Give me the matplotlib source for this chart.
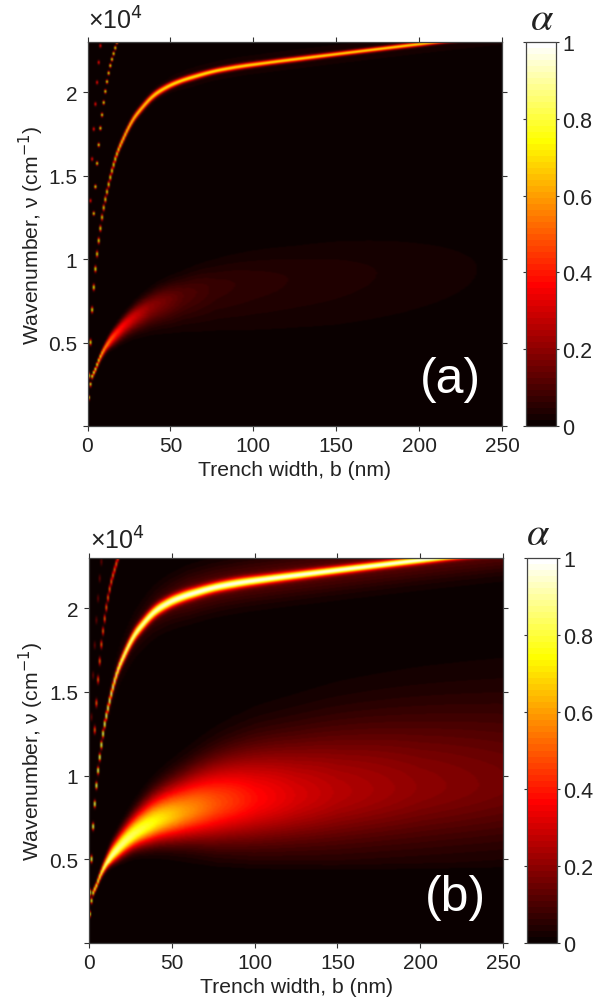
import numpy as np
from matplotlib import pyplot as plt
plt.rc('font', **{'family': 'Liberation Sans', 'size': 13})

main_b = [0, 1, 2, 3, 4, 5, 6, 8, 11.6, 16, 21.7, 27, 32, 38, 47.8, 56, 64, 75, 88, 108, 128, 150, 175, 200, 215, 250]
main_nu = [0.3, 0.5, 0.695, 0.83, 0.94, 1.03, 1.11, 1.25, 1.43, 1.60, 1.74, 1.84, 1.905, 1.97, 2.035, 2.07, 2.095, 2.125, 2.15, 2.178, 2.203, 2.23, 2.26, 2.29, 2.307, 2.345]
main_amp_a = [0.75, 0.75, 0.75, 0.75, 0.75, 0.72, 0.72, 0.7, 0.72, 0.72, 0.72, 0.7, 0.68, 0.68, 0.68, 0.68, 0.68, 0.68, 0.66, 0.66, 0.66, 0.66, 0.66, 0.66, 0.6, 0.5]
main_wid_a = [.012, .012, .012, .012, .012, .012, .012, .012, .012, .013, .014, .014, .014, .014, .013, .012, .012, .011, .011, .010, .010, .009, .009, .009, .008, .008]
main_amp_b = [0.85] * 26
main_wid_b = [.014, .014, .014, .014, .014, .015, .015, .016, .018, .02, .023, .024, .024, .024, .023, .022, .021, .02, .02, .018, .017, .016, .015, .015, .014, .014]

sec_b = [3, 4, 5, 6, 7, 8, 10, 12, 16, 20]
sec_nu = [1.273, 1.434, 1.574, 1.685, 1.785, 1.865, 2.006, 2.116, 2.267, 2.4]
thi_b = [1, 2, 3, 4, 5, 6, 7, 8]
thi_nu = [1.35, 1.6, 1.78, 1.93, 2.06, 2.18, 2.28, 2.4]

low_b = [0, 1, 4, 7, 10, 13, 17, 22, 27, 37, 57, 77, 100, 125, 150, 200, 250]
low_nu = [0.17, 0.25, 0.34, 0.415, 0.47, 0.515, 0.56, 0.61, 0.65, 0.71, 0.78, 0.83, 0.86, 0.88, 0.90, 0.93, 0.95]
low_amp_a = [0.8, 0.8, 0.8, 0.72, 0.6, 0.5, 0.42, 0.35, 0.3, 0.2, 0.11, 0.07, 0.055, 0.045, 0.038, 0.024, 0.012]
low_amp_b = [0.8, 0.8, 0.8, 0.85, 0.9, 0.9, 0.88, 0.85, 0.82, 0.76, 0.6, 0.48, 0.38, 0.31, 0.26, 0.2, 0.16]
low_under = [.012, .012, .014, .018, .024, .03, .038, .047, .055, .075, .11, .15, .18, .2, .22, .24, .25]
low_over = [.012, .012, .014, .02, .03, .04, .05, .062, .075, .1, .14, .18, .22, .25, .28, .32, .35]

x_ticks = [0, 50, 100, 150, 200, 250]
y_ticks = [5000, 10000, 15000, 20000]
y_labels = ['0.5', '1', '1.5', '2']
cb_ticks = [0, 0.2, 0.4, 0.6, 0.8, 1]
cb_labels = ['0', '0.2', '0.4', '0.6', '0.8', '1']

W, H = 603.0, 1003.0
cols = np.arange(0, 251)
rows = np.arange(0, 2.3025, 0.005)
hot = plt.get_cmap('hot', 64)


def through(x, xp, yp):
    # cubic hermite through the table, nan outside of it
    xp = np.array(xp, dtype=float)
    yp = np.array(yp, dtype=float)
    m = np.gradient(yp, xp)
    out = np.full(x.shape, np.nan)
    for i in range(len(xp) - 1):
        sel = (x >= xp[i]) & (x <= xp[i + 1])
        h = xp[i + 1] - xp[i]
        t = (x[sel] - xp[i]) / h
        out[sel] = ((2 * t**3 - 3 * t**2 + 1) * yp[i] + (t**3 - 2 * t**2 + t) * h * m[i]
                    + (-2 * t**3 + 3 * t**2) * yp[i + 1] + (t**3 - t**2) * h * m[i + 1])
    return out


def ridge(centre, under, over, amp):
    # one value per cell, peak sits on the ridge
    d = rows[:, None] - centre[None, :]
    s = np.where(d < 0, under[None, :], over[None, :])
    return np.nan_to_num(amp[None, :] * np.exp(-0.5 * (d / s) ** 2))


def build(main_amp, main_wid, sec_amp, sec_wid, thi_amp, low_amp, over_scale, skirt_amp, skirt_wid):
    m_nu = through(cols, main_b, main_nu)
    m_w = np.interp(cols, main_b, main_wid)
    m_a = np.interp(cols, main_b, main_amp)
    z = ridge(m_nu, m_w, m_w, m_a)
    sk = np.full(cols.shape, skirt_wid)
    z = z + ridge(m_nu, sk, sk, np.full(cols.shape, skirt_amp) * np.minimum(cols / 60.0, 1))
    for b, nu, amp in [(sec_b, sec_nu, sec_amp), (thi_b, thi_nu, thi_amp)]:
        w = np.full(cols.shape, sec_wid)
        z = z + ridge(through(cols, b, nu), w, w, np.full(cols.shape, amp))
    l_nu = through(cols, low_b, low_nu)
    l_u = np.interp(cols, low_b, low_under)
    l_o = np.interp(cols, low_b, low_over) * over_scale
    l_a = np.interp(cols, low_b, low_amp)
    # the broad band has a fairly clean lower edge near 0.4
    floor = np.minimum(l_nu - 0.1, 0.38)
    ramp = np.clip((rows[:, None] - floor[None, :]) / 0.1, 0, 1)
    z = z + ridge(l_nu, l_u, l_o, l_a) * ramp
    return np.clip(z, 0, 1)


def panel(box, cbox, z, tag, tag_xy, times_xy, alpha_xy):
    x0, x1, y0, y1 = box
    ax = fig.add_axes([x0 / W, 1 - y1 / H, (x1 - x0) / W, (y1 - y0) / H])
    im = ax.imshow(z, origin='lower', aspect='auto', cmap=hot, vmin=0, vmax=1,
                   extent=[0, 250, 0, 23000], interpolation='bicubic')
    ax.set_xlim(0, 250)
    ax.set_ylim(0, 23000)
    ax.set_xticks(x_ticks)
    ax.set_yticks([0] + y_ticks)
    ax.set_yticklabels([''] + y_labels)
    ax.tick_params(top=True, right=True, direction='out', length=3.5, width=0.8,
                   color='#333333', labelcolor='#222222', pad=4, labelsize=15)
    for s in ax.spines.values():
        s.set_color('#444444')
        s.set_linewidth(0.9)
    ax.set_xlabel('Trench width, b (nm)', color='#222222', fontsize=15.2)
    ax.xaxis.set_label_coords(0.5, -44 / (y1 - y0), transform=ax.transAxes)
    ax.xaxis.label.set_va('center')
    ax.set_ylabel('Wavenumber, ν (cm$^{-1}$)', color='#222222', fontsize=15.2)
    ax.yaxis.set_label_coords((31 - x0) / (x1 - x0), 0.5, transform=ax.transAxes)
    ax.yaxis.label.set_va('center')
    ax.text(tag_xy[0], tag_xy[1], tag, color='white', fontsize=36, ha='center', va='center')
    fig.text(times_xy[0] / W, 1 - times_xy[1] / H, '×10$^{4}$', fontsize=18, color='#222222',
             ha='left', va='center')

    cx0, cx1 = cbox
    cax = fig.add_axes([cx0 / W, 1 - y1 / H, (cx1 - cx0) / W, (y1 - y0) / H])
    cb = fig.colorbar(im, cax=cax)
    cb.set_ticks(cb_ticks)
    cb.set_ticklabels(cb_labels)
    cax.tick_params(left=True, right=True, direction='out', length=2.5, width=0.8,
                    color='#333333', labelcolor='#222222', pad=2, labelsize=15.5)
    cb.outline.set_edgecolor('#444444')
    cb.outline.set_linewidth(0.9)
    fig.text(alpha_xy[0] / W, 1 - alpha_xy[1] / H, r'$\alpha$', fontsize=29, color='#222222',
             ha='center', va='center', math_fontfamily='stix')


fig = plt.figure(figsize=(W / 100, H / 100), dpi=100)

z_a = build(main_amp_a, main_wid_a, 0.75, 0.008, 0.4, low_amp_a, 0.55, 0.03, 0.05)
z_b = build(main_amp_b, main_wid_b, 0.5, 0.016, 0.15, low_amp_b, 1.0, 0.12, 0.09)

panel((87.5, 502, 43, 427), (526, 556), z_a, '(a)', (219, 2800), (88, 21), (542, 19))
panel((88.7, 503.3, 559, 944), (527, 557), z_b, '(b)', (221, 2750), (90, 541), (538, 534))

plt.savefig('out.png')
